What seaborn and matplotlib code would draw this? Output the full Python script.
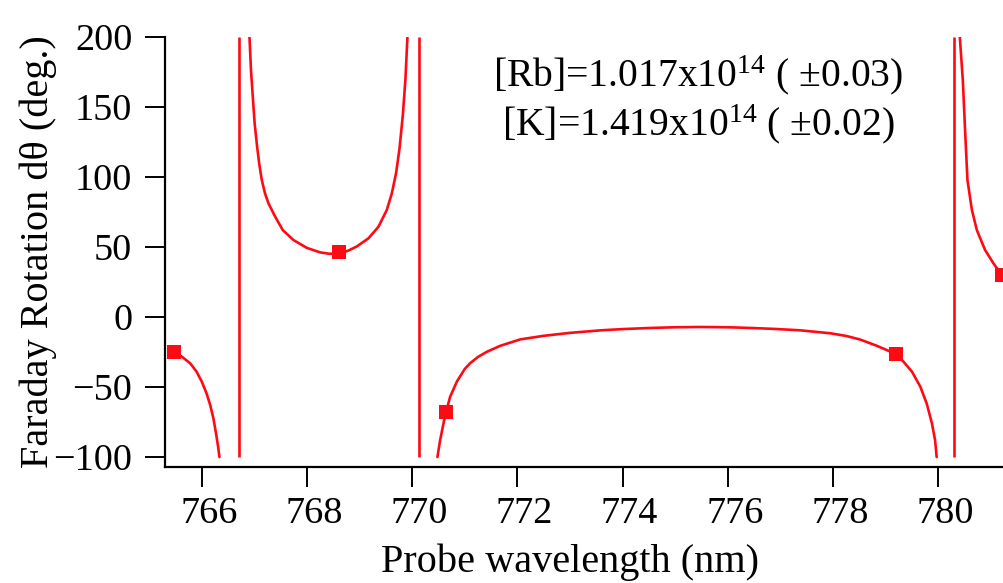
import numpy as np
import pandas as pd
import matplotlib
matplotlib.use("Agg")
import matplotlib.pyplot as plt
import matplotlib.transforms as mtransforms
import seaborn as sns

# ---------------- data ----------------
# measured points (red squares)
meas_wl = [765.47, 768.60, 770.645, 779.19, 781.21]
meas_rot = [-25.2, 46.6, -67.6, -26.4, 30.0]

# fitted curve, one list per branch between the resonances (visible part only)
branch_a_wl = [765.47, 765.62, 765.78, 765.90, 766.00, 766.09, 766.16, 766.22, 766.27, 766.31, 766.335]
branch_a_rot = [-25.2, -28.3, -33.1, -39.0, -46.2, -54.5, -62.9, -72.4, -83.1, -92.6, -100.0]

branch_b_wl = [766.906, 766.935, 766.969, 767.005, 767.051, 767.095, 767.140, 767.20, 767.267,
               767.394, 767.539, 767.742, 767.996, 768.249, 768.42, 768.597, 768.77, 768.946,
               769.168, 769.358, 769.516, 769.612, 769.694, 769.757, 769.821, 769.871, 769.909]
branch_b_rot = [200.0, 176.0, 157.4, 138.0, 121.7, 108.5, 97.9, 88.5, 81.2,
                71.7, 62.1, 55.0, 49.4, 46.2, 45.2, 45.3, 47.2, 50.4,
                56.2, 64.5, 76.4, 88.3, 103.0, 120.0, 144.0, 170.0, 200.0]

branch_c_wl = [770.479, 770.53, 770.594, 770.645, 770.72, 770.85, 771.0, 771.1, 771.25, 771.42,
               771.67, 772.05, 772.5, 773.0, 773.58, 774.0, 774.53, 775.0, 775.48, 776.0,
               776.43, 776.9, 777.38, 777.95, 778.25, 778.51, 778.83, 779.194, 779.34, 779.50,
               779.66, 779.78, 779.88, 779.94, 779.97]
branch_c_rot = [-100.0, -88.0, -76.0, -67.6, -57.0, -46.0, -37.0, -33.0, -28.5, -24.8,
                -20.6, -16.0, -13.4, -11.3, -9.5, -8.6, -7.8, -7.3, -7.1, -7.3,
                -7.8, -8.5, -9.5, -11.6, -13.5, -16.0, -20.5, -26.4, -31.9, -39.0,
                -49.8, -61.7, -75.9, -88.0, -100.0]

branch_d_wl = [780.41, 780.467, 780.51, 780.555, 780.64, 780.734, 780.89, 781.05, 781.21]
branch_d_rot = [200.0, 169.3, 133.6, 97.9, 76.4, 62.1, 47.9, 38.3, 30.0]

# resonance lines (K D2, K D1, Rb D2) where the curve jumps across the plotted range
pole_wl = [766.70, 770.12, 780.29]
clip_low, clip_high = -100, 200

x_ticks = [766, 768, 770, 772, 774, 776, 778, 780]
y_ticks = [-100, -50, 0, 50, 100, 150, 200]

label_rb = "[Rb]=1.017x10$^{14}$ ( \u00b10.03)"
label_k = "[K]=1.419x10$^{14}$ ( \u00b10.02)"

# ---------------- style ----------------
sns.set_style("ticks")
plt.rcParams["font.family"] = ["Liberation Serif", "DejaVu Serif"]
plt.rcParams["mathtext.fontset"] = "custom"
plt.rcParams["mathtext.rm"] = "Liberation Serif"
plt.rcParams["mathtext.it"] = "Liberation Serif:italic"
plt.rcParams["mathtext.bf"] = "Liberation Serif:bold"
plt.rcParams["text.color"] = "black"
plt.rcParams["axes.labelcolor"] = "black"
plt.rcParams["xtick.color"] = "black"
plt.rcParams["ytick.color"] = "black"

RED = "#ff0a14"

curve_df = pd.concat([
    pd.DataFrame({"wl": w, "rot": r, "branch": b})
    for w, r, b in [(branch_a_wl, branch_a_rot, "a"), (branch_b_wl, branch_b_rot, "b"),
                    (branch_c_wl, branch_c_rot, "c"), (branch_d_wl, branch_d_rot, "d")]
], ignore_index=True)
meas_df = pd.DataFrame({"wl": meas_wl, "rot": meas_rot})

fig = plt.figure(figsize=(10.04, 5.83), dpi=100)
ax = fig.add_axes([165 / 1004, 116 / 583, 839 / 1004, 430 / 583])

sns.lineplot(data=curve_df, x="wl", y="rot", units="branch", estimator=None, sort=False,
             color=RED, lw=1.9, ax=ax, legend=False)
ax.vlines(pole_wl, clip_low, clip_high, color=RED, lw=1.9)
sns.scatterplot(data=meas_df, x="wl", y="rot", marker="s", s=100, color=RED,
                edgecolor="none", linewidth=0, ax=ax, zorder=5, legend=False)

ax.set_xlim(765.30, 781.25)
ax.set_ylim(-107.1, 200)
ax.set_xticks(x_ticks)
ax.set_yticks(y_ticks)

for side in ["top", "right"]:
    ax.spines[side].set_visible(False)
for side in ["left", "bottom"]:
    ax.spines[side].set_linewidth(1.6)
    ax.spines[side].set_color("black")

ax.tick_params(axis="both", direction="out", length=14.5, width=1.4, colors="black",
               labelsize=27.5)
ax.tick_params(axis="x", pad=7)
ax.tick_params(axis="y", pad=9)

offset = mtransforms.ScaledTranslation(7 / 100, 0, fig.dpi_scale_trans)
for lab in ax.get_xticklabels():
    lab.set_transform(lab.get_transform() + offset)

ax.set_xlabel("Probe wavelength (nm)", fontsize=29, va="baseline", color="black")
ax.xaxis.set_label_coords(0.4827, -0.2442)
ax.set_ylabel("Faraday Rotation d\u03b8 (deg.)", fontsize=29, va="baseline", color="black")
ax.yaxis.set_label_coords(-0.1395, 0.5)

ax.text(0.6353, 0.8844, label_rb, transform=ax.transAxes, ha="center", va="baseline",
        fontsize=28.5, color="black")
ax.text(0.6353, 0.7721, label_k, transform=ax.transAxes, ha="center", va="baseline",
        fontsize=28.5, color="black")

fig.savefig("out.png", dpi=100)
